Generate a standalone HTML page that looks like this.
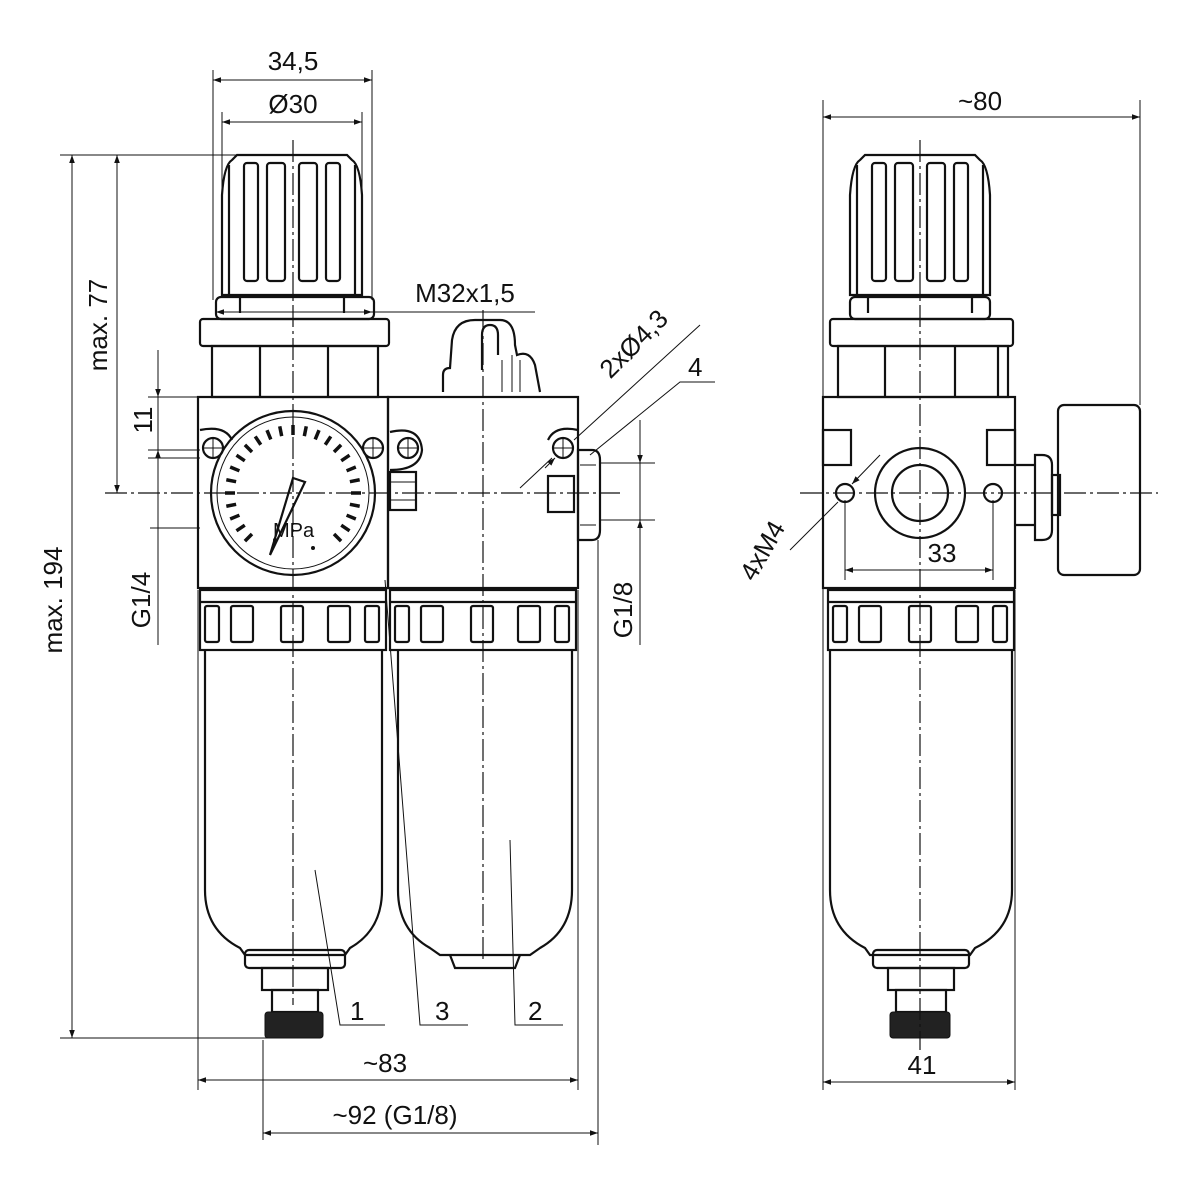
<!DOCTYPE html>
<html><head><meta charset="utf-8"><style>
html,body{margin:0;padding:0;background:#fff}
svg{display:block}
text{font-family:"Liberation Sans",sans-serif;font-size:26px;fill:#111}
.o{fill:none;stroke:#111;stroke-width:2.2}
.t{fill:none;stroke:#111;stroke-width:1}
.c{fill:none;stroke:#111;stroke-width:1.2;stroke-dasharray:22 4 3 4}
</style></head><body>
<svg width="1200" height="1200" viewBox="0 0 1200 1200" xmlns="http://www.w3.org/2000/svg">
<defs>
<marker id="a" viewBox="0 0 10 10" refX="10" refY="5" markerWidth="14" markerHeight="8" orient="auto-start-reverse" markerUnits="userSpaceOnUse"><path d="M0,1.5 L10,5 L0,8.5 z" fill="#111"/></marker>
<g id="knob">
<path class="o" d="M-70,140 L-70,40 Q-68,10 -60,5 L-55,0 L55,0 L60,5 Q68,10 70,40 L70,140 Z"/>
<path class="o" d="M-52,140 L-52,158 M52,140 L52,158"/>
<rect class="o" x="-48" y="8" width="14" height="118" rx="3"/>
<rect class="o" x="-25" y="8" width="18" height="118" rx="3"/>
<rect class="o" x="7" y="8" width="18" height="118" rx="3"/>
<rect class="o" x="34" y="8" width="14" height="118" rx="3"/>
<path class="o" d="M-63,10 L-63,140 M63,10 L63,140"/>
</g>
<g id="bowl">
<rect class="o" x="-93" y="0" width="186" height="60"/>
<path class="o" d="M-93,12 L93,12"/>
<rect class="o" x="-88" y="16" width="14" height="36" rx="2"/>
<rect class="o" x="-62" y="16" width="22" height="36" rx="2"/>
<rect class="o" x="-12" y="16" width="22" height="36" rx="2"/>
<rect class="o" x="35" y="16" width="22" height="36" rx="2"/>
<rect class="o" x="72" y="16" width="14" height="36" rx="2"/>
</g>
</defs>

<!-- ============ LEFT VIEW ============ -->
<use href="#knob" x="292" y="155"/>
<rect class="o" x="216" y="297" width="158" height="22" rx="5"/>
<rect class="o" x="200" y="319" width="189" height="27" rx="3"/>
<rect class="o" x="212" y="346" width="166" height="51"/>
<path class="o" d="M260,346 V397 M328,346 V397"/>
<rect class="o" x="198" y="397" width="190" height="191"/>
<rect class="o" x="388" y="397" width="190" height="191"/>
<!-- ears/screws -->
<g class="o">
<circle cx="213" cy="448" r="10"/><circle cx="373" cy="448" r="10"/><circle cx="408" cy="448" r="10"/><circle cx="563" cy="448" r="10"/>
</g>
<path class="t" d="M203,448h20M213,438v20M363,448h20M373,438v20M398,448h20M408,438v20M553,448h20M563,438v20"/>
<path class="o" d="M200,430 Q225,425 232,440 M390,432 Q420,425 422,450 Q420,470 390,470 M548,440 Q555,425 578,430"/>
<!-- gauge -->
<circle class="o" cx="293" cy="493" r="82"/>
<circle class="t" cx="293" cy="493" r="76"/>
<g id="ticks"></g>
<path class="o" d="M270,555 L293,478 L305,482 Z"/>
<text x="273" y="537" style="font-size:20px">MPa</text>
<circle cx="275" cy="540" r="2" fill="#111"/><circle cx="313" cy="548" r="2" fill="#111"/>
<!-- plug right of gauge -->
<rect class="o" x="390" y="472" width="26" height="38"/>
<path class="t" d="M390,482h26M390,500h26"/>
<!-- oil cap -->
<path class="o" d="M443,392 V375 Q443,368 450,368 L452,340 Q455,320 475,320 L500,320 Q515,320 515,345 L517,355 Q530,350 535,365 L540,392"/>
<path class="o" d="M482,370 V335 Q482,325 490,325 Q498,325 498,335 V355"/>
<path class="t" d="M502,360V392M512,355V392M520,360V392"/>
<!-- right fitting -->
<rect class="o" x="548" y="476" width="26" height="36"/>
<path class="o" d="M578,450 L592,450 Q600,450 600,460 L600,530 Q600,540 592,540 L578,540 Z"/>
<path class="t" d="M580,465h16M580,525h16"/>
<!-- bowls -->
<use href="#bowl" x="293" y="590"/>
<use href="#bowl" x="483" y="590"/>
<path class="o" d="M205,650 L205,890 Q205,930 240,948 L245,955 L345,955 L350,948 Q382,930 382,890 L382,650"/>
<rect class="o" x="245" y="950" width="100" height="18" rx="4"/>
<rect class="o" x="262" y="968" width="66" height="22"/>
<rect class="o" x="272" y="990" width="46" height="22"/>
<rect x="265" y="1012" width="58" height="26" rx="3" fill="#222" stroke="#111"/>
<path class="o" d="M398,650 L398,890 Q398,930 430,948 L440,955 L530,955 L540,948 Q572,930 572,890 L572,650"/>
<path class="o" d="M450,955 L455,968 L515,968 L520,955"/>

<!-- centerlines left -->
<path class="c" d="M293,140 V1005 M483,310 V960 M105,493 H620"/>

<!-- dimensions left -->
<path class="t" d="M213,70 V300 M372,70 V300 M222,112 V295 M362,112 V295"/>
<path class="t" d="M213,80 H372" marker-start="url(#a)" marker-end="url(#a)"/>
<text x="293" y="70" text-anchor="middle">34,5</text>
<path class="t" d="M222,122 H362" marker-start="url(#a)" marker-end="url(#a)"/>
<text x="293" y="113" text-anchor="middle">Ø30</text>
<path class="t" d="M60,155 H293 M60,1038 H290"/>
<path class="t" d="M72,155 V1038" marker-start="url(#a)" marker-end="url(#a)"/>
<text transform="translate(72,600) rotate(-90)" text-anchor="middle" dy="-10">max. 194</text>
<path class="t" d="M117,155 V493" marker-start="url(#a)" marker-end="url(#a)"/>
<text transform="translate(117,325) rotate(-90)" text-anchor="middle" dy="-10">max. 77</text>
<path class="t" d="M148,397 H200 M148,450 H200 M148,458 H200 M150,528 H200"/>
<path class="t" d="M158,350 V397" marker-end="url(#a)"/><path class="t" d="M158,500 V450" marker-end="url(#a)"/>
<path class="t" d="M158,397 V450"/>
<text transform="translate(158,420) rotate(-90)" text-anchor="middle" dy="-6">11</text>
<path class="t" d="M158,458 V528"/>
<text transform="translate(158,600) rotate(-90)" text-anchor="middle" dy="-8">G1/4</text>
<path class="t" d="M158,528 V645"/>
<path class="t" d="M300,312 H535"/>
<path class="t" d="M216,312 H372" marker-start="url(#a)" marker-end="url(#a)"/>
<text x="465" y="302" text-anchor="middle">M32x1,5</text>
<path class="t" d="M520,488 L552,458 M574,440 L700,325"/>
<path class="t" d="M545,468 L555,458" marker-end="url(#a)"/>
<text transform="translate(640,350) rotate(-45)" text-anchor="middle">2xØ4,3</text>
<path class="t" d="M590,455 L680,382 H715"/>
<text x="688" y="376">4</text>
<path class="t" d="M600,463 H655 M600,520 H655"/>
<path class="t" d="M640,420 V463" marker-end="url(#a)"/><path class="t" d="M640,645 V520" marker-end="url(#a)"/>
<path class="t" d="M640,463 V520"/>
<text transform="translate(640,610) rotate(-90)" text-anchor="middle" dy="-8">G1/8</text>
<path class="t" d="M198,590 V1090 M578,590 V1090 M598,540 V1145 M263,1040 V1140"/>
<path class="t" d="M198,1080 H578" marker-start="url(#a)" marker-end="url(#a)"/>
<text x="385" y="1072" text-anchor="middle">~83</text>
<path class="t" d="M263,1133 H598" marker-start="url(#a)" marker-end="url(#a)"/>
<text x="395" y="1124" text-anchor="middle">~92 (G1/8)</text>
<!-- callouts -->
<path class="t" d="M315,870 L340,1025 H385"/><text x="350" y="1020">1</text>
<path class="t" d="M385,580 L420,1025 H468"/><text x="435" y="1020">3</text>
<path class="t" d="M510,840 L515,1025 H563"/><text x="528" y="1020">2</text>

<!-- ============ RIGHT VIEW ============ -->
<use href="#knob" x="920" y="155"/>
<rect class="o" x="850" y="297" width="140" height="22" rx="5"/>
<rect class="o" x="830" y="319" width="183" height="27" rx="3"/>
<rect class="o" x="838" y="346" width="170" height="51"/>
<path class="o" d="M885,346 V397 M955,346 V397 M998,346 V397"/>
<rect class="o" x="823" y="397" width="192" height="191"/>
<rect class="o" x="823" y="430" width="28" height="35"/>
<rect class="o" x="987" y="430" width="28" height="35"/>
<circle class="o" cx="920" cy="493" r="45"/><circle class="o" cx="920" cy="493" r="28"/>
<circle class="o" cx="845" cy="493" r="9"/><circle class="o" cx="993" cy="493" r="9"/>
<path class="o" d="M1015,465 H1035 V525 H1015 M1035,455 H1042 Q1052,455 1052,465 V530 Q1052,540 1042,540 H1035 Z"/>
<rect class="o" x="1052" y="475" width="8" height="40"/>
<rect class="o" x="1058" y="405" width="82" height="170" rx="6"/>
<use href="#bowl" x="921" y="590"/>
<path class="o" d="M830,650 L830,890 Q830,930 865,948 L870,955 L970,955 L975,948 Q1012,930 1012,890 L1012,650"/>
<rect class="o" x="873" y="950" width="96" height="18" rx="4"/>
<rect class="o" x="888" y="968" width="66" height="22"/>
<rect class="o" x="896" y="990" width="50" height="22"/>
<rect x="890" y="1012" width="60" height="26" rx="3" fill="#222" stroke="#111"/>
<path class="c" d="M920,140 V1050 M800,493 H1158"/>
<path class="t" d="M823,100 V1090 M1140,100 V405 M1015,590 V1090"/>
<path class="t" d="M823,117 H1140" marker-start="url(#a)" marker-end="url(#a)"/>
<text x="980" y="110" text-anchor="middle">~80</text>
<path class="t" d="M845,500 V580 M993,500 V580"/>
<path class="t" d="M845,570 H993" marker-start="url(#a)" marker-end="url(#a)"/>
<text x="942" y="562" text-anchor="middle">33</text>
<path class="t" d="M880,455 L852,484" marker-end="url(#a)"/><path class="t" d="M838,502 L790,550"/>
<text transform="translate(770,555) rotate(-60)" text-anchor="middle">4xM4</text>
<path class="t" d="M823,1082 H1015" marker-start="url(#a)" marker-end="url(#a)"/>
<text x="922" y="1074" text-anchor="middle">41</text>
</svg>
<script>
var g=document.getElementById('ticks'),s='';
for(var i=0;i<=24;i++){var a=(-225+i*11.25)*Math.PI/180;
 if(i>0&&i<24&&false){}
 var r1=58,r2=68,cx=293,cy=493;
 var x1=cx+r1*Math.cos(a),y1=cy+r1*Math.sin(a),x2=cx+r2*Math.cos(a),y2=cy+r2*Math.sin(a);
 s+='<line x1="'+x1+'" y1="'+y1+'" x2="'+x2+'" y2="'+y2+'" stroke="#111" stroke-width="3.5"/>';}
g.innerHTML=s;
</script>
</body></html>
